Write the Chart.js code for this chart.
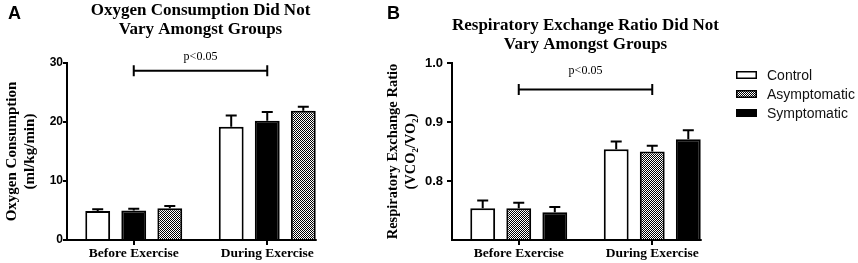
<!DOCTYPE html>
<html>
<head>
<meta charset="utf-8">
<script src="https://cdn.jsdelivr.net/npm/chart.js@4/dist/chart.umd.min.js"></script>
<style>
    html, body { margin: 0; background: #fff; }
    #wrap { position: relative; width: 858px; height: 263px; overflow: hidden; }
    .panel { position: absolute; top: 0; }
    .tag { position: absolute; top: 3px; font: bold 18px "Liberation Sans", Arial, sans-serif; color: #000; }
</style>
</head>
<body>
<div id="wrap">
    <div class="panel" style="left:0"><canvas id="chartA" width="345" height="263"></canvas></div>
    <div class="panel" style="left:385px"><canvas id="chartB" width="473" height="263"></canvas></div>
    <div class="tag" style="left:8px">A</div>
    <div class="tag" style="left:387px">B</div>
</div>
<script>
    const categories = ['Before Exercise', 'During Exercise'];

    // panel A: oxygen consumption (ml/kg/min), mean and SEM
    const o2Control = [4.9, 19.2];
    const o2ControlErr = [0.3, 1.9];
    const o2Symptomatic = [5.0, 20.2];
    const o2SymptomaticErr = [0.3, 1.5];
    const o2Asymptomatic = [5.4, 21.9];
    const o2AsymptomaticErr = [0.35, 0.7];
    const o2Ticks = { min: 0, max: 30, step: 10 };

    // panel B: respiratory exchange ratio, mean and SEM
    const rerControl = [0.754, 0.854];
    const rerControlErr = [0.013, 0.013];
    const rerAsymptomatic = [0.754, 0.850];
    const rerAsymptomaticErr = [0.009, 0.010];
    const rerSymptomatic = [0.747, 0.871];
    const rerSymptomaticErr = [0.009, 0.015];
    const rerTicks = { min: 0.7, max: 1.0, step: 0.1 };

    const serif = '"Liberation Serif", "Times New Roman", serif';
    const sans = '"Liberation Sans", Arial, sans-serif';

    function checker() {
        const c = document.createElement('canvas');
        c.width = c.height = 2;
        const g = c.getContext('2d');
        g.fillStyle = '#fff'; g.fillRect(0, 0, 2, 2);
        g.fillStyle = '#000'; g.fillRect(0, 0, 1, 1); g.fillRect(1, 1, 1, 1);
        return g.createPattern(c, 'repeat');
    }
    const fills = { Control: '#fff', Asymptomatic: checker(), Symptomatic: '#000' };

    const bar = (label, data, errors) => ({
        label, data, errors, backgroundColor: fills[label], borderColor: '#000', borderWidth: 2,
        barPercentage: 0.69, categoryPercentage: 0.81
    });

    // error bars, x axis line, significance bracket and legend
    const extras = {
        id: 'extras',
        afterDatasetsDraw(chart, args, opts) {
            const { ctx, chartArea, scales: { x, y } } = chart;
            ctx.save();
            ctx.strokeStyle = '#000';
            ctx.lineWidth = 2;
            chart.data.datasets.forEach((ds, i) => {
                chart.getDatasetMeta(i).data.forEach((el, j) => {
                    const top = y.getPixelForValue(ds.data[j] + ds.errors[j]);
                    ctx.beginPath();
                    ctx.moveTo(el.x, el.y); ctx.lineTo(el.x, top);
                    ctx.moveTo(el.x - 5.5, top); ctx.lineTo(el.x + 5.5, top);
                    ctx.stroke();
                });
            });
            const metas = chart.getSortedVisibleDatasetMetas();
            const last = metas[metas.length - 1].data.at(-1);
            ctx.beginPath();
            ctx.moveTo(chartArea.left, chartArea.bottom);
            ctx.lineTo(last.x + last.width / 2 + 1, chartArea.bottom);
            ctx.stroke();

            const x0 = x.getPixelForValue(0), x1 = x.getPixelForValue(1);
            const by = y.getPixelForValue(opts.sig.y);
            ctx.beginPath();
            ctx.moveTo(x0, by); ctx.lineTo(x1, by);
            ctx.moveTo(x0, by - 5.5); ctx.lineTo(x0, by + 5.5);
            ctx.moveTo(x1, by - 5.5); ctx.lineTo(x1, by + 5.5);
            ctx.stroke();
            ctx.fillStyle = '#000';
            ctx.font = `12px ${serif}`;
            ctx.textAlign = 'center';
            ctx.textBaseline = 'middle';
            ctx.fillText(opts.sig.text, (x0 + x1) / 2, y.getPixelForValue(opts.sig.textY));

            if (opts.legend) {
                const lx = chartArea.right + 17;
                ctx.font = `14px ${sans}`;
                ctx.textAlign = 'left';
                ctx.lineWidth = 1.5;
                opts.legend.forEach((name, i) => {
                    const cy = 75 + i * 19;
                    ctx.fillStyle = fills[name];
                    ctx.fillRect(lx, cy - 4, 21, 8);
                    ctx.strokeRect(lx + 0.75, cy - 3.25, 19.5, 6.5);
                    ctx.fillStyle = '#111';
                    ctx.fillText(name, lx + 31, cy + 1);
                });
            }
            ctx.restore();
        }
    };

    function options(p) {
        return {
            responsive: false,
            animation: false,
            layout: { padding: { left: 0, right: p.padRight, top: 0, bottom: 0 } },
            plugins: {
                legend: { display: false },
                tooltip: { enabled: false },
                title: {
                    display: true, text: p.title, fullSize: false, color: '#000',
                    font: { family: serif, size: 17, weight: 'bold', lineHeight: 1.12 },
                    padding: { top: p.titleTop, bottom: p.titleBottom }
                },
                extras: { sig: p.sig, legend: p.legend }
            },
            scales: {
                x: {
                    grid: { offset: false, drawOnChartArea: false, color: '#000', lineWidth: 2, tickLength: 5 },
                    border: { display: false },
                    ticks: { color: '#000', font: { family: serif, size: 13.5, weight: 'bold' }, padding: 0, maxRotation: 0 },
                    afterFit: (s) => { s.height = 23; }
                },
                y: {
                    min: p.ticks.min, max: p.ticks.max,
                    ticks: {
                        stepSize: p.ticks.step, color: '#000', padding: p.tickPad,
                        font: { family: sans, size: p.tickSize, weight: 'bold' },
                        callback: (v) => v <= p.ticks.min + 1e-9 && p.hideMin ? '' : p.fmt(v)
                    },
                    grid: {
                        drawOnChartArea: false, lineWidth: 2, tickLength: p.tickLen,
                        color: (c) => p.hideMin && c.tick && c.tick.value <= p.ticks.min + 1e-9 ? 'rgba(0,0,0,0)' : '#000'
                    },
                    border: { color: '#000', width: 2 },
                    title: {
                        display: true, text: p.yTitle, color: '#000',
                        font: { family: serif, size: p.yTitleSize, weight: 'bold', lineHeight: 1.2 },
                        padding: { top: p.yTitlePad, bottom: 0 }
                    },
                    afterFit: (s) => { s.width = 67; }
                }
            }
        };
    }

    new Chart(document.getElementById('chartA'), {
        type: 'bar',
        data: { labels: categories, datasets: [
            bar('Control', o2Control, o2ControlErr),
            bar('Symptomatic', o2Symptomatic, o2SymptomaticErr),
            bar('Asymptomatic', o2Asymptomatic, o2AsymptomaticErr)
        ]},
        options: options({
            padRight: 11, title: ['Oxygen Consumption Did Not', 'Vary Amongst Groups'], titleTop: 1, titleBottom: 24,
            ticks: o2Ticks, tickSize: 12, tickPad: 0, tickLen: 4, hideMin: false, fmt: (v) => String(v),
            yTitle: ['Oxygen Consumption', '(ml/kg/min)'], yTitleSize: 15, yTitlePad: 3,
            sig: { y: 28.7, textY: 31, text: 'p<0.05' }
        }),
        plugins: [extras]
    });

    new Chart(document.getElementById('chartB'), {
        type: 'bar',
        data: { labels: categories, datasets: [
            bar('Control', rerControl, rerControlErr),
            bar('Asymptomatic', rerAsymptomatic, rerAsymptomaticErr),
            bar('Symptomatic', rerSymptomatic, rerSymptomaticErr)
        ]},
        options: options({
            padRight: 139, title: ['Respiratory Exchange Ratio Did Not', 'Vary Amongst Groups'], titleTop: 16, titleBottom: 9,
            ticks: rerTicks, tickSize: 13, tickPad: 4, tickLen: 5, hideMin: true, fmt: (v) => v.toFixed(1),
            yTitle: ['Respiratory Exchange Ratio', '(VCO\u2082/VO\u2082)'], yTitleSize: 14.5, yTitlePad: 0,
            sig: { y: 0.955, textY: 0.987, text: 'p<0.05' },
            legend: ['Control', 'Asymptomatic', 'Symptomatic']
        }),
        plugins: [extras]
    });
</script>
</body>
</html>
